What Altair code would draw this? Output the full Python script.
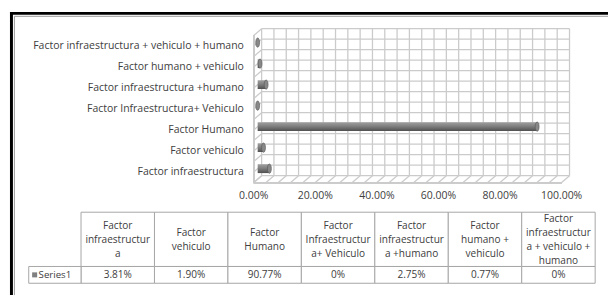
import altair as alt
import pandas as pd

# ---------------- data ----------------
categories = [
    "Factor infraestructura",
    "Factor vehiculo",
    "Factor Humano",
    "Factor Infraestructura+ Vehiculo",
    "Factor infraestructura +humano",
    "Factor humano + vehiculo",
    "Factor infraestructura + vehiculo + humano",
]
values = [3.81, 1.90, 90.77, 0.0, 2.75, 0.77, 0.0]
value_labels = ["3.81%", "1.90%", "90.77%", "0%", "2.75%", "0.77%", "0%"]
table_headers = [
    ["Factor", "infraestructur", "a"],
    ["Factor", "vehiculo"],
    ["Factor", "Humano"],
    ["Factor", "Infraestructur", "a+ Vehiculo"],
    ["Factor", "infraestructur", "a +humano"],
    ["Factor", "humano +", "vehiculo"],
    ["Factor", "infraestructur", "a + vehiculo +", "humano"],
]
x_ticks = [0, 20, 40, 60, 80, 100]
x_tick_labels = ["0.00%", "20.00%", "40.00%", "60.00%", "80.00%", "100.00%"]
series_name = "Series1"

FONT = "Open Sans"
TXT = "#404040"
GRID = "#cbcbcb"
FS = 10.6
FT = 10.2

df = pd.DataFrame({"cat": categories, "val": values, "lab": value_labels,
                   "col": list(range(len(categories)))})
head_rows = []
for c, lines in enumerate(table_headers):
    n = len(lines)
    for i, line in enumerate(lines):
        head_rows.append({"col": c, "line": i - (n - 1) / 2, "txt": line})
head_df = pd.DataFrame(head_rows)
ticks_df = pd.DataFrame({"t": x_ticks, "lab": x_tick_labels})
vgrid = pd.DataFrame({"g": list(range(0, 101, 4))})
hgrid = pd.DataFrame({"h": list(range(15))})

y_order = categories[::-1]

# front plane / back wall / bar plane (plot-area pixel ranges)
x_front = alt.Scale(domain=[0, 100], range=[249, 561])
x_back = alt.Scale(domain=[0, 100], range=[257, 569])
x_bar = alt.Scale(domain=[0, 100], range=[253, 565])
y_front = alt.Scale(domain=y_order, range=[26, 175], paddingInner=0, paddingOuter=0)
y_bar = alt.Scale(domain=y_order, range=[22.5, 171.5], paddingInner=0, paddingOuter=0)
y_hgrid = alt.Scale(domain=[0, 14], range=[19, 168])

back_v = alt.Chart(vgrid).mark_rule(color=GRID, strokeWidth=1.3).encode(
    x=alt.X("g:Q", scale=x_back, axis=None),
    y=alt.value(19), y2=alt.value(168))
back_h = alt.Chart(hgrid).mark_rule(color=GRID, strokeWidth=1.3).encode(
    y=alt.Y("h:Q", scale=y_hgrid, axis=None),
    x=alt.value(257), x2=alt.value(569))
left_d = alt.Chart(hgrid).mark_rule(color=GRID, strokeWidth=1.3, yOffset=7, x2Offset=8).encode(
    y=alt.Y("h:Q", scale=y_hgrid, axis=None), y2="h:Q",
    x=alt.value(249), x2=alt.value(249))
left_front = alt.Chart(hgrid).mark_rule(color=GRID, strokeWidth=1.3).encode(
    x=alt.value(249), y=alt.value(26), y2=alt.value(175))
floor_d = alt.Chart(vgrid).mark_rule(color=GRID, strokeWidth=1.3, x2Offset=8).encode(
    x=alt.X("g:Q", scale=x_front, axis=None), x2="g:Q",
    y=alt.value(175), y2=alt.value(168))
floor_front = alt.Chart(hgrid).mark_rule(color=GRID, strokeWidth=1.3).encode(
    x=alt.value(249), x2=alt.value(561), y=alt.value(175))

bar_grad = alt.Gradient(
    gradient="linear", x1=0, y1=0, x2=0, y2=1,
    stops=[alt.GradientStop(offset=0, color="#a0a0a0"),
           alt.GradientStop(offset=0.45, color="#808080"),
           alt.GradientStop(offset=1, color="#505050")])
bars = alt.Chart(df).mark_bar(color=bar_grad, size=9).encode(
    x=alt.X("val:Q", scale=x_bar, axis=None),
    x2=alt.datum(0),
    y=alt.Y("cat:N", scale=y_bar, axis=None))
caps = alt.Chart(df).mark_point(
    shape="M0,-1A0.42,1,0,1,1,0,1A0.42,1,0,1,1,0,-1Z",
    size=90, filled=True, color="#888888", stroke="#555555", strokeWidth=0.6, opacity=1).encode(
    x=alt.X("val:Q", scale=x_bar, axis=None),
    y=alt.Y("cat:N", scale=y_bar, axis=None))

cat_labels = alt.Chart(df).mark_text(align="right", baseline="middle", font=FONT,
                                     fontSize=FS, color=TXT).encode(
    x=alt.value(239),
    y=alt.Y("cat:N", scale=y_front, axis=None),
    text="cat:N")
tick_labels = alt.Chart(ticks_df).mark_text(align="center", baseline="middle", font=FONT,
                                            fontSize=FS, color=TXT).encode(
    x=alt.X("t:Q", scale=x_front, axis=None),
    y=alt.value(189),
    text="lab:N")

# data table
x_tab = alt.Scale(domain=list(range(len(categories))), range=[74, 595],
                  paddingInner=0, paddingOuter=0)
y_line = alt.Scale(domain=[-2, 2], range=[205, 261])
TB = "#a6a6a6"
head_cells = alt.Chart(df).mark_rect(fill="white", stroke=TB, strokeWidth=1).encode(
    x=alt.X("col:O", scale=x_tab, axis=None),
    y=alt.value(205), y2=alt.value(260))
val_cells = alt.Chart(df).mark_rect(fill="white", stroke=TB, strokeWidth=1).encode(
    x=alt.X("col:O", scale=x_tab, axis=None),
    y=alt.value(260), y2=alt.value(277))
head_text = alt.Chart(head_df).mark_text(align="center", baseline="middle", font=FONT,
                                         fontSize=FT, color=TXT).encode(
    x=alt.X("col:O", scale=x_tab, axis=None),
    y=alt.Y("line:Q", scale=y_line, axis=None),
    text="txt:N")
val_text = alt.Chart(df).mark_text(align="center", baseline="middle", font=FONT,
                                   fontSize=FT, color=TXT).encode(
    x=alt.X("col:O", scale=x_tab, axis=None),
    y=alt.value(269),
    text="lab:N")
legend_df = pd.DataFrame({"name": [series_name]})
legend_cell = alt.Chart(legend_df).mark_rect(fill="white", stroke=TB, strokeWidth=1).encode(
    x=alt.value(21), x2=alt.value(74), y=alt.value(260), y2=alt.value(277))
legend_sq = alt.Chart(legend_df).mark_square(size=26, color="#808080", opacity=1).encode(
    x=alt.value(27), y=alt.value(268.5))
legend_txt = alt.Chart(legend_df).mark_text(align="left", baseline="middle", font=FONT,
                                            fontSize=FT - 0.4, color=TXT).encode(
    x=alt.value(31), y=alt.value(269), text="name:N")

frame_top = alt.Chart(legend_df).mark_rule(color="black", strokeWidth=3).encode(
    x=alt.value(2), x2=alt.value(608), y=alt.value(3.5))
frame_left = alt.Chart(legend_df).mark_rule(color="black", strokeWidth=3).encode(
    x=alt.value(3.5), y=alt.value(2), y2=alt.value(289))
frame_top2 = alt.Chart(legend_df).mark_rule(color="#9a9a9a", strokeWidth=1).encode(
    x=alt.value(6.5), x2=alt.value(608), y=alt.value(6.5))
frame_left2 = alt.Chart(legend_df).mark_rule(color="#9a9a9a", strokeWidth=1).encode(
    x=alt.value(6.5), y=alt.value(6.5), y2=alt.value(289))

layers = [back_v, back_h, left_d, left_front, floor_d, floor_front, bars, caps,
          cat_labels, tick_labels, head_cells, val_cells, head_text, val_text,
          legend_cell, legend_sq, legend_txt, frame_top, frame_left, frame_top2, frame_left2]

chart = alt.layer(*layers).resolve_scale(x="independent", y="independent").properties(
    width=608, height=289, padding=0, autosize=alt.AutoSizeParams(type="none"),
    background="white"
).configure_view(stroke=None)

chart.save("out.html", embed_options={"renderer": "svg", "actions": False})
